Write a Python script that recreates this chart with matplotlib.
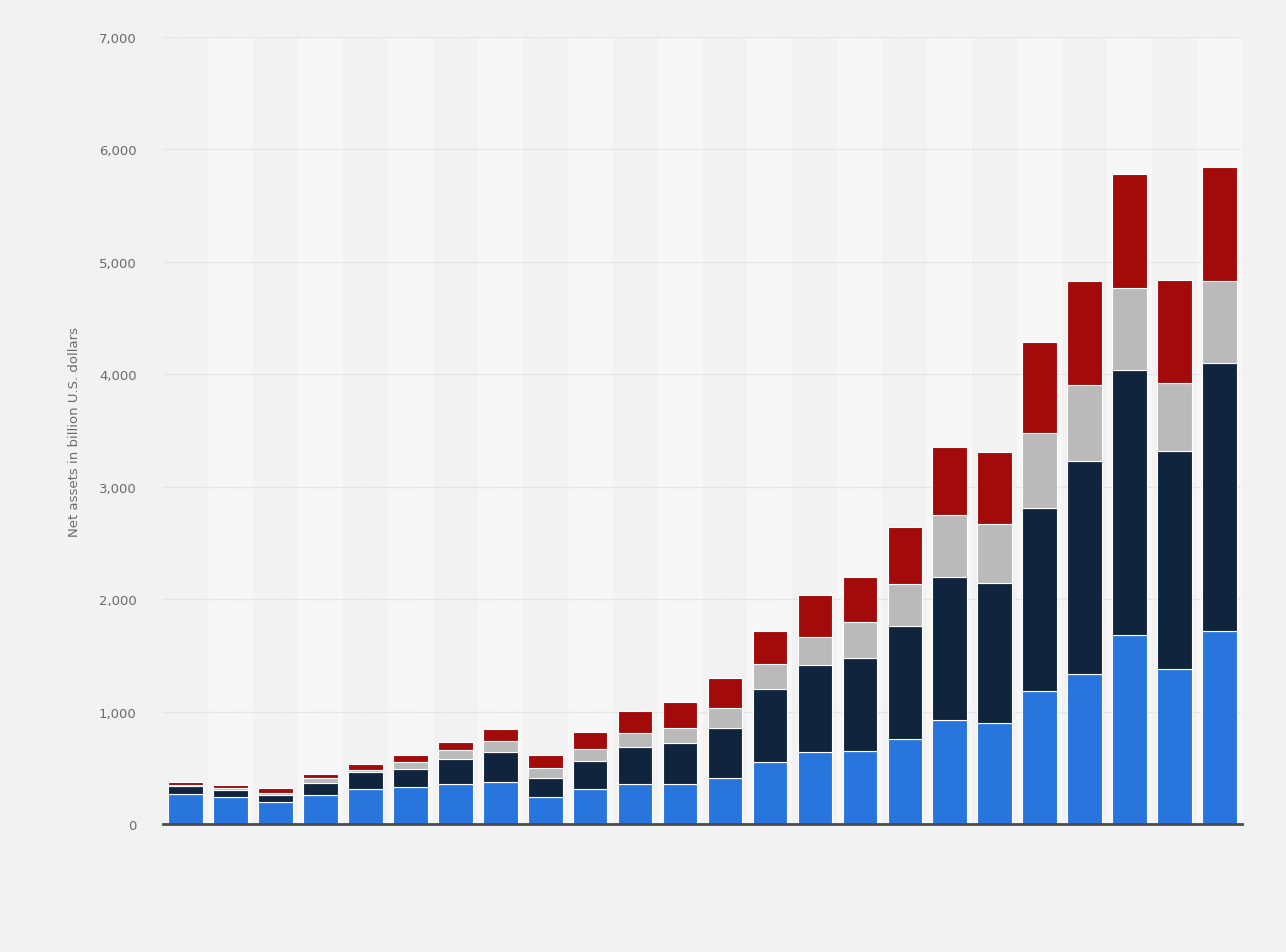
import matplotlib
matplotlib.use("Agg")
import matplotlib.pyplot as plt
import numpy as np

# net assets per year, billion USD (stack order bottom -> top)
blue = [265, 240, 195, 260, 310, 330, 355, 375, 240, 310, 355, 355,
        410, 550, 640, 645, 755, 925, 900, 1180, 1335, 1680, 1375, 1720]
navy = [70, 60, 65, 105, 150, 160, 220, 265, 170, 250, 330, 365,
        445, 650, 775, 835, 1005, 1275, 1240, 1630, 1895, 2360, 1945, 2380]
gray = [15, 20, 15, 45, 20, 60, 80, 100, 90, 105, 125, 135,
        180, 220, 250, 320, 375, 550, 530, 665, 675, 730, 605, 730]
red = [20, 25, 45, 35, 55, 65, 75, 105, 115, 150, 195, 230,
       265, 295, 370, 400, 505, 605, 640, 815, 925, 1015, 910, 1010]

series = [blue, navy, gray, red]
colors = ['#2876dd', '#10243e', '#bababa', '#a30b0b']

y_ticks = [0, 1000, 2000, 3000, 4000, 5000, 6000, 7000]
y_label = 'Net assets in billion U.S. dollars'

bg = '#f2f2f2'
fig = plt.figure(figsize=(12.86, 9.53), dpi=100, facecolor=bg)
ax = fig.add_axes([0.1268, 0.1343, 0.8390, 0.8258])
ax.set_facecolor(bg)

n = len(blue)
x = np.arange(n)

# alternating column bands
for i in range(n):
    if i % 2 == 1:
        ax.axvspan(i - 0.5, i + 0.5, color='#f7f7f7', zorder=0, lw=0)

bottom = np.zeros(n)
for vals, c in zip(series, colors):
    ax.bar(x, vals, width=0.77, bottom=bottom, color=c,
           edgecolor='white', linewidth=0.8, zorder=3)
    bottom += np.array(vals)

ax.set_xlim(-0.5, n - 0.5)
ax.set_ylim(0, 7000)
ax.set_yticks(y_ticks)
ax.set_yticklabels([f'{v:,}' for v in y_ticks], color='#6b6b6b', fontsize=9.5)
ax.set_xticks([])
ax.tick_params(axis='y', length=0, pad=19)

ax.yaxis.grid(True, color='#d8d8d8', linestyle=(0, (1, 1)), linewidth=0.9, zorder=1)
ax.set_axisbelow(True)
for s in ['top', 'right', 'left']:
    ax.spines[s].set_visible(False)
ax.spines['bottom'].set_color('#4a4a4a')
ax.spines['bottom'].set_linewidth(2)
ax.spines['bottom'].set_zorder(4)

ax.set_ylabel(y_label, color='#6b6b6b', fontsize=9.5, labelpad=13)

fig.savefig('out.png', dpi=100, facecolor=bg)
